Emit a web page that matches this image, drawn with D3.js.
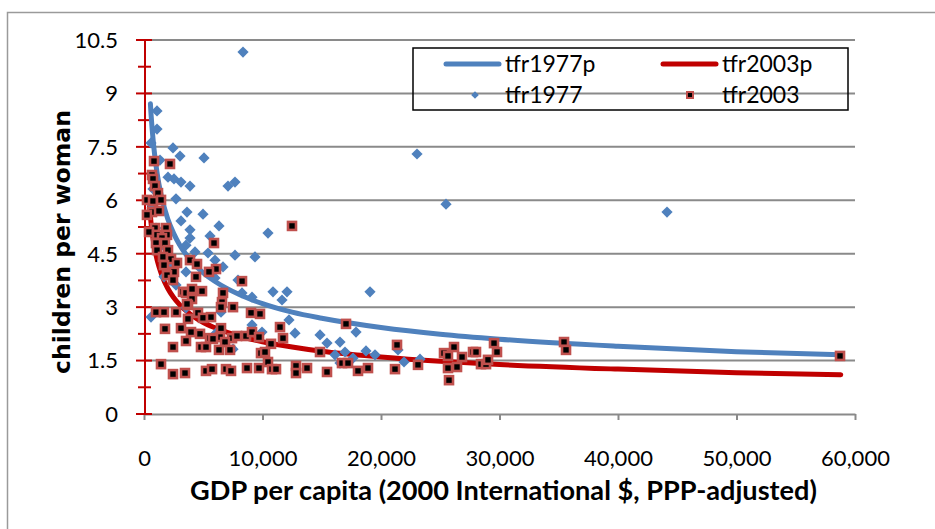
<!DOCTYPE html>
<html><head><meta charset="utf-8">
<script src="https://cdn.jsdelivr.net/npm/d3@7"></script>
<style>
html,body{margin:0;padding:0;background:#fff;}
svg{display:block;}
</style></head>
<body>
<svg id="chart" width="935" height="529"></svg>
<script>
// ---------------- data ----------------
const yTicks = [0, 1.5, 3, 4.5, 6, 7.5, 9, 10.5];
const xTicks = [0, 10000, 20000, 30000, 40000, 50000, 60000];
const seriesNames = ["tfr1977p", "tfr2003p", "tfr1977", "tfr2003"];

// fitted curves
const fit1977X = [540,600,700,800,1000,1250,1500,2000,2500,3000,4000,5000,6000,8000,10000,12500,15000,20000,25000,30000,40000,50000,58800];
const fit1977Y = [8.71,8.39,7.95,7.58,7.01,6.47,6.07,5.48,5.07,4.75,4.29,3.96,3.72,3.36,3.10,2.86,2.69,2.43,2.24,2.10,1.90,1.75,1.66];
const fit2003X = [450,600,700,800,1000,1250,1500,2000,2500,3000,4000,5000,6000,8000,10000,12500,15000,20000,25000,30000,40000,50000,58800];
const fit2003Y = [5.91,5.35,5.07,4.84,4.48,4.15,3.90,3.53,3.27,3.07,2.78,2.57,2.42,2.19,2.03,1.88,1.76,1.60,1.48,1.39,1.26,1.16,1.10];

// 1977 observations
const gdp1977 = [8355,1097,1097,591,2447,3038,5063,1350,2025,2532,3122,3882,7089,7679,2700,760,3629,4979,3122,3882,6329,3882,5570,3544,5401,5992,7679,4304,1688,3544,5992,7933,6667,9367,10464,10886,12068,11646,9114,8270,12236,9114,9958,12743,14853,15443,16540,16118,16962,16540,19072,17891,18734,19494,17637,21435,21942,23292,23039,25486,44136,591,6498,6076,7511,3544,675,1013,1519,2194,2700];
const tfr1977 = [10.16,8.51,8.00,7.61,7.47,7.24,7.19,7.13,6.65,6.60,6.51,6.40,6.40,6.51,6.04,6.32,5.67,5.61,5.42,5.17,5.28,4.94,5.00,4.74,4.52,4.32,4.46,4.55,3.85,3.99,3.82,3.76,4.13,4.41,5.08,3.43,3.43,3.20,3.28,3.40,2.64,2.50,2.30,2.27,2.22,1.99,2.02,1.66,1.74,1.43,3.43,2.30,1.77,1.66,1.57,1.80,1.46,1.54,7.30,5.89,5.67,2.72,2.86,2.27,1.82,2.98,5.87,5.22,4.74,4.18,3.62];

// 2003 observations
const gdp2003 = [844,2194,675,760,928,1181,253,760,1435,675,1266,250,928,1857,422,1097,1941,1519,1013,1772,1097,2025,1603,2279,2785,1688,2532,1941,2447,3882,4473,4388,5907,6076,5485,8270,12490,3291,3544,4051,4895,6667,6582,4051,3713,7511,6498,1013,1688,2700,3629,4557,4979,5654,3713,9030,9789,3122,1772,6498,3966,4726,3544,5570,6414,7426,7848,8608,9114,9705,11477,11730,10718,6836,6329,7258,2447,4810,5232,5823,9874,10211,10464,14853,1435,2447,3460,5232,5739,6920,7342,8692,9705,10802,11139,12827,12827,13756,15443,17047,16709,17215,18059,18903,21351,21182,23123,25317,25654,26161,26836,25654,26414,25739,27764,28017,28439,28861,29030,29536,29789,35444,35613,58736];
const tfr2003 = [7.10,7.02,6.71,6.60,6.40,6.20,6.01,5.98,6.01,5.67,5.70,5.59,5.22,5.22,5.11,5.03,5.03,4.94,4.80,4.80,4.60,4.60,4.41,4.35,4.24,4.18,3.99,3.90,3.76,4.32,4.21,3.85,4.80,4.07,3.99,3.73,5.28,3.43,3.40,3.51,3.45,3.40,3.14,3.23,3.06,3.00,3.00,2.86,2.86,2.86,3.09,2.84,2.70,2.72,2.67,2.84,2.81,2.41,2.39,2.41,2.30,2.25,2.05,2.13,2.16,2.13,2.19,2.19,2.30,2.16,2.44,2.13,1.97,2.02,1.80,1.80,1.88,1.88,1.88,2.11,1.71,1.74,1.46,1.74,1.40,1.12,1.15,1.21,1.26,1.26,1.21,1.29,1.29,1.26,1.26,1.35,1.15,1.29,1.18,2.53,1.43,1.43,1.21,1.29,1.94,1.26,1.38,1.71,1.63,1.88,1.60,1.29,1.32,0.95,1.74,1.74,1.40,1.40,1.52,1.99,1.74,2.02,1.80,1.63];

// ---------------- drawing ----------------
const svg = d3.select("#chart");
const W = 935, H = 529;
const blue = "#4F81BD", red = "#C00000", sqStroke = "#C0504D", grid = "#8A8A8A";
const x = d3.scaleLinear().domain([0, 60000]).range([144, 855]);
const y = d3.scaleLinear().domain([0, 10.5]).range([414, 40]);

// outer chart border
svg.append("rect").attr("x", 7.5).attr("y", 12.5).attr("width", W).attr("height", H)
  .attr("fill", "none").attr("stroke", "#9a9a9a").attr("stroke-width", 1.5);

// horizontal gridlines
svg.append("g").selectAll("line").data(yTicks.filter(d => d > 0)).join("line")
  .attr("x1", x(0)).attr("x2", x(60000))
  .attr("y1", d => y(d)).attr("y2", d => y(d))
  .attr("stroke", grid).attr("stroke-width", 2);

// x axis
const xAxis = d3.axisBottom(x).tickValues(xTicks).tickSize(6).tickSizeOuter(0)
  .tickFormat(d3.format(","));
const gx = svg.append("g").attr("transform", `translate(0,${y(0)})`).call(xAxis);
gx.select(".domain").attr("stroke", grid).attr("stroke-width", 2);
gx.selectAll(".tick line").attr("stroke", grid).attr("stroke-width", 2);
gx.selectAll(".tick text").attr("font-family", "Lato, 'Liberation Sans', sans-serif")
  .attr("font-size", 22).attr("fill", "#000").attr("y", 0).attr("dy", 0)
  .attr("transform", "translate(0,52)");

// y axis (red) with major and minor ticks
const yMinor = yTicks.slice(0, -1).map(d => d + 0.75);
const gy = svg.append("g");
gy.append("line").attr("x1", 145).attr("x2", 145).attr("y1", y(10.5)).attr("y2", y(0))
  .attr("stroke", red).attr("stroke-width", 2);
gy.selectAll(".maj").data(yTicks).join("line").attr("class", "maj")
  .attr("x1", 136).attr("x2", 152).attr("y1", d => y(d)).attr("y2", d => y(d))
  .attr("stroke", red).attr("stroke-width", 2);
gy.selectAll(".min").data(yMinor).join("line").attr("class", "min")
  .attr("x1", 138).attr("x2", 151).attr("y1", d => y(d)).attr("y2", d => y(d))
  .attr("stroke", red).attr("stroke-width", 2);
gy.selectAll("text").data(yTicks).join("text")
  .attr("x", 118).attr("y", d => y(d)).attr("dy", "0.36em")
  .attr("text-anchor", "end")
  .attr("font-family", "Lato, 'Liberation Sans', sans-serif").attr("font-size", 22)
  .text(d => d3.format("")(d));

// fit text helper
function fit(sel, target) {
  const n = sel.node();
  const fs = parseFloat(sel.attr("font-size"));
  const w = n.getComputedTextLength();
  if (w > 0) sel.attr("font-size", (fs * target / w).toFixed(2));
}

// axis titles
const xt = svg.append("text").attr("x", (190 + 817) / 2).attr("y", 500)
  .attr("text-anchor", "middle").attr("font-family", "Lato, 'Liberation Sans', sans-serif")
  .attr("font-weight", "bold").attr("font-size", 24)
  .text("GDP per capita (2000 International $, PPP-adjusted)");
fit(xt, 627);
const yt = svg.append("text").attr("transform", "translate(70,242) rotate(-90)")
  .attr("text-anchor", "middle").attr("font-family", "'DejaVu Sans', sans-serif")
  .attr("font-weight", "bold").attr("font-size", 22)
  .text("children per woman");
fit(yt, 264);

// fitted curves
const line = d3.line().x(d => x(d[0])).y(d => y(d[1])).curve(d3.curveMonotoneX);
svg.append("path").datum(d3.zip(fit1977X, fit1977Y)).attr("d", line)
  .attr("fill", "none").attr("stroke", blue).attr("stroke-width", 5).attr("stroke-linecap", "round");
svg.append("path").datum(d3.zip(fit2003X, fit2003Y)).attr("d", line)
  .attr("fill", "none").attr("stroke", red).attr("stroke-width", 5).attr("stroke-linecap", "round");

// markers
const diamond = r => `M0,${-r}L${r},0L0,${r}L${-r},0Z`;
svg.append("g").selectAll("path").data(d3.zip(gdp1977, tfr1977)).join("path")
  .attr("transform", d => `translate(${x(d[0])},${y(d[1])})`)
  .attr("d", diamond(5.6)).attr("fill", blue);
svg.append("g").selectAll("rect").data(d3.zip(gdp2003, tfr2003)).join("rect")
  .attr("x", d => x(d[0]) - 4).attr("y", d => y(d[1]) - 4)
  .attr("width", 8).attr("height", 8)
  .attr("fill", "#000").attr("stroke", sqStroke).attr("stroke-width", 2.6);

// legend
const lg = svg.append("g");
lg.append("rect").attr("x", 413).attr("y", 48).attr("width", 435).attr("height", 62)
  .attr("fill", "none").attr("stroke", "#000").attr("stroke-width", 1.5);
const lgFont = "Lato, 'Liberation Sans', sans-serif";
const items = [
  {name: seriesNames[0], kind: "line", color: blue, sx: 446, tx: 505, yy: 64},
  {name: seriesNames[1], kind: "line", color: red, sx: 663, tx: 722, yy: 64},
  {name: seriesNames[2], kind: "diamond", color: blue, sx: 446, tx: 505, yy: 95},
  {name: seriesNames[3], kind: "square", color: "#000", sx: 663, tx: 722, yy: 95}
];
items.forEach(it => {
  if (it.kind === "line") {
    lg.append("line").attr("x1", it.sx).attr("x2", it.sx + 53).attr("y1", it.yy).attr("y2", it.yy)
      .attr("stroke", it.color).attr("stroke-width", 5).attr("stroke-linecap", "round");
  } else if (it.kind === "diamond") {
    lg.append("path").attr("transform", `translate(${it.sx + 29},${it.yy})`)
      .attr("d", diamond(3.8)).attr("fill", it.color);
  } else {
    lg.append("rect").attr("x", it.sx + 27 - 3).attr("y", it.yy - 3).attr("width", 6).attr("height", 6)
      .attr("fill", "#000").attr("stroke", sqStroke).attr("stroke-width", 2);
  }
  lg.append("text").attr("x", it.tx).attr("y", it.yy).attr("dy", "0.36em")
    .attr("font-family", lgFont).attr("font-size", 23).text(it.name);
});
</script>
</body></html>
